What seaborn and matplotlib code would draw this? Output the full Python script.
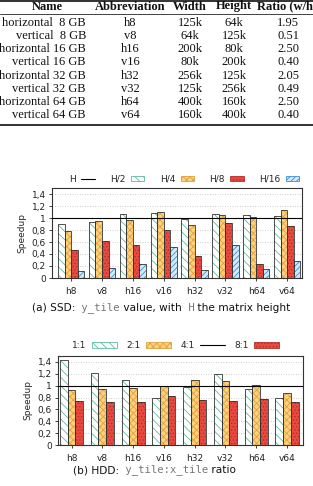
import numpy as np
import pandas as pd
import matplotlib
matplotlib.use('Agg')
import matplotlib.pyplot as plt
import seaborn as sns
from matplotlib.patches import Patch, Rectangle
from matplotlib.lines import Line2D

# table data
names = ['horizontal  8 GB', 'vertical  8 GB', 'horizontal 16 GB', 'vertical 16 GB',
         'horizontal 32 GB', 'vertical 32 GB', 'horizontal 64 GB', 'vertical 64 GB']
abbrevs = ['h8', 'v8', 'h16', 'v16', 'h32', 'v32', 'h64', 'v64']
widths = ['125k', '64k', '200k', '80k', '256k', '125k', '400k', '160k']
heights = ['64k', '125k', '80k', '200k', '125k', '256k', '160k', '400k']
ratios = ['1.95', '0.51', '2.50', '0.40', '2.05', '0.49', '2.50', '0.40']
headers = ['Name', 'Abbreviation', 'Width', 'Height', 'Ratio (w/h)']

# SSD speedups, y_tile = H/2, H/4, H/8, H/16
ssd_labels = ['H/2', 'H/4', 'H/8', 'H/16']
ssd_h2 = [0.90, 0.94, 1.06, 1.09, 0.98, 1.07, 1.05, 1.03]
ssd_h4 = [0.79, 0.95, 0.97, 1.10, 0.89, 1.05, 1.02, 1.13]
ssd_h8 = [0.46, 0.61, 0.545, 0.80, 0.36, 0.91, 0.225, 0.87]
ssd_h16 = [0.12, 0.16, 0.24, 0.52, 0.14, 0.545, 0.155, 0.29]

# HDD speedups, y_tile:x_tile = 1:1, 2:1, 8:1  (4:1 is the baseline)
hdd_labels = ['1:1', '2:1', '8:1']
hdd_11 = [1.44, 1.21, 1.09, 0.79, 0.98, 1.20, 0.95, 0.80]
hdd_21 = [0.92, 0.95, 0.96, 0.99, 1.09, 1.08, 1.01, 0.88]
hdd_81 = [0.75, 0.72, 0.72, 0.83, 0.76, 0.75, 0.78, 0.73]

# bar styles: face, hatch, hatch colour
styles = {
    'green': ('white', '\\\\\\\\', '#5dbc9c'),
    'yellow': ('#fcd27e', 'xxxxx', '#e3a03c'),
    'red': ('#e9493f', '.....', '#b3302a'),
    'blue': ('#d3e8f8', '//////', '#3c8ed6'),
}
ssd_style = ['green', 'yellow', 'red', 'blue']
hdd_style = ['green', 'yellow', 'red']

sns.set_theme(style='ticks')
plt.rcParams['font.family'] = ['DejaVu Sans']
plt.rcParams['hatch.linewidth'] = 0.6

W, H = 313, 486
fig = plt.figure(figsize=(W / 100, H / 100), dpi=100)


def fx(x):
    return x / W


def fy(y):
    return 1 - y / H


# ---- table ----
serif = ['Liberation Serif', 'DejaVu Serif']
tfs = 9
fig.add_artist(Line2D([0, 1], [fy(0.8), fy(0.8)], color='#222', lw=1.3))
fig.add_artist(Line2D([0, 1], [fy(14), fy(14)], color='#222', lw=0.6))
fig.add_artist(Line2D([0, 1], [fy(125), fy(125)], color='#222', lw=1.3))
col_x = [47.5, 130, 190, 234, 257]
for i, h in enumerate(headers):
    ha = 'left' if i == 4 else 'center'
    fig.text(fx(col_x[i]), fy(6.5), h, ha=ha, va='center', family=serif,
             fontsize=tfs, fontweight='bold', color='#111')
for r in range(len(names)):
    y = fy(23 + r * 13.15)
    kw = dict(va='center', family=serif, fontsize=tfs, color='#111')
    fig.text(fx(86), y, names[r], ha='right', **kw)
    fig.text(fx(130), y, abbrevs[r], ha='center', **kw)
    fig.text(fx(190), y, widths[r], ha='center', **kw)
    fig.text(fx(234), y, heights[r], ha='center', **kw)
    fig.text(fx(288), y, ratios[r], ha='center', **kw)


def style_bars(ax, keys):
    for cont, key in zip(ax.containers, keys):
        face, hatch, hcol = styles[key]
        for p in cont:
            p.set_facecolor(face)
            p.set_hatch(hatch)
            p.set_edgecolor(hcol)
            p.set_linewidth(0)
            ax.add_patch(Rectangle(p.get_xy(), p.get_width(), p.get_height(),
                                   fill=False, edgecolor='#333333', lw=0.6, zorder=3))


def legend_handles(labels, keys):
    out = []
    for lab, key in zip(labels, keys):
        face, hatch, hcol = styles[key]
        out.append(Patch(facecolor=face, hatch=hatch, edgecolor=hcol, lw=0.6, label=lab))
    return out


def setup_axes(ax):
    ax.set_ylim(0, 1.5)
    ticks = np.arange(0, 1.41, 0.2)
    ax.set_yticks(ticks)
    ax.set_yticklabels([f'{t:g}'.replace('.', ',') for t in np.round(ticks, 1)])
    ax.yaxis.grid(True, ls=(0, (1, 2)), color='#bbbbbb', lw=0.6)
    ax.set_axisbelow(True)
    ax.axhline(1, color='black', lw=0.8, zorder=4)
    ax.tick_params(labelsize=6.5, length=2.5, width=0.6, pad=2, colors='#222')
    ax.tick_params(axis='x', pad=4)
    for s in ax.spines.values():
        s.set_visible(True)
        s.set_linewidth(0.8)
        s.set_color('#333333')
    ax.set_xlabel('')
    ax.set_ylabel('Speedup', fontsize=6.5, labelpad=4)


# ---- SSD chart ----
ssd_df = pd.DataFrame({
    'config': abbrevs * 4,
    'tile': sum([[l] * 8 for l in ssd_labels], []),
    'speedup': ssd_h2 + ssd_h4 + ssd_h8 + ssd_h16,
})
ax1 = fig.add_axes([fx(52), fy(278), 250 / W, 90 / H])
sns.barplot(data=ssd_df, x='config', y='speedup', hue='tile', order=abbrevs,
            hue_order=ssd_labels, width=0.85, saturation=1, legend=False,
            errorbar=None, ax=ax1)
style_bars(ax1, ssd_style)
setup_axes(ax1)
ax1.set_xlim(-0.62, 7.48)
h1 = [Line2D([], [], color='black', lw=0.8, label='H')] + legend_handles(ssd_labels, ssd_style)
fig.legend(handles=h1, ncol=5, loc='center right', bbox_to_anchor=(fx(304), fy(179)),
           frameon=False, fontsize=6.5, markerfirst=False, handlelength=1.5,
           handleheight=0.5, handletextpad=0.6, columnspacing=1.7, borderpad=0)

# ---- HDD chart ----
hdd_df = pd.DataFrame({
    'config': abbrevs * 3,
    'tile': sum([[l] * 8 for l in hdd_labels], []),
    'speedup': hdd_11 + hdd_21 + hdd_81,
})
ax2 = fig.add_axes([fx(58), fy(445), 245 / W, 89 / H])
sns.barplot(data=hdd_df, x='config', y='speedup', hue='tile', order=abbrevs,
            hue_order=hdd_labels, width=0.75, saturation=1, legend=False,
            errorbar=None, ax=ax2)
style_bars(ax2, hdd_style)
setup_axes(ax2)
ax2.set_xlim(-0.44, 7.52)
p2 = legend_handles(hdd_labels, hdd_style)
h2 = [p2[0], p2[1], Line2D([], [], color='black', lw=0.8, label='4:1'), p2[2]]
fig.legend(handles=h2, ncol=4, loc='center right', bbox_to_anchor=(fx(284), fy(346)),
           frameon=False, fontsize=6.5, markerfirst=False, handlelength=2.8,
           handleheight=0.6, handletextpad=0.6, columnspacing=1.0, borderpad=0)


# ---- captions with mixed fonts ----
def caption(x, y, parts, fs=7.6):
    t = fig.text(fx(x), fy(y), parts[0][0], fontsize=fs, family=parts[0][1],
                 color=parts[0][2], va='center')
    for s, fam, col in parts[1:]:
        t = plt.annotate(s, xycoords=t, xy=(1, 0), va='bottom', ha='left',
                         fontsize=fs, family=fam, color=col, annotation_clip=False)


sans, mono = ['DejaVu Sans'], ['DejaVu Sans Mono']
caption(32, 308, [('(a) SSD:', sans, '#111'), (' y_tile', mono, '#777'),
                  (' value, with', sans, '#111'), (' H', mono, '#777'),
                  (' the matrix height', sans, '#111')])
caption(73, 470, [('(b) HDD:', sans, '#111'), (' y_tile:x_tile', mono, '#777'),
                  (' ratio', sans, '#111')])

fig.savefig('out.png', dpi=100)
